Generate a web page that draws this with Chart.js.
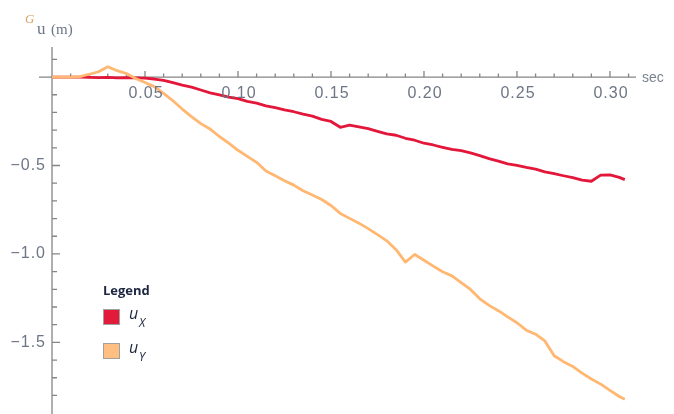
<!DOCTYPE html>
<html>
<head>
<meta charset="utf-8">
<script src="https://cdn.jsdelivr.net/npm/chart.js@4.4.1/dist/chart.umd.min.js"></script>
<style>
  html, body { margin: 0; padding: 0; background: #fff; }
  #wrap { width: 674px; height: 414px; position: relative; }
</style>
</head>
<body>
<div id="wrap"><canvas id="chart"></canvas></div>
<script>
// Sample times (s) and displacements (m)
const timeSec = [
  0, 0.005, 0.01, 0.015, 0.02, 0.025, 0.03, 0.035, 0.04, 0.045,
  0.05, 0.055, 0.06, 0.065, 0.07, 0.075, 0.08, 0.085, 0.09, 0.095,
  0.10, 0.105, 0.11, 0.115, 0.12, 0.125, 0.13, 0.135, 0.14, 0.145,
  0.15, 0.155, 0.16, 0.165, 0.17, 0.175, 0.18, 0.185, 0.19, 0.195,
  0.20, 0.205, 0.21, 0.215, 0.22, 0.225, 0.23, 0.235, 0.24, 0.245,
  0.25, 0.255, 0.26, 0.265, 0.27, 0.275, 0.28, 0.285, 0.29, 0.295,
  0.30, 0.305, 0.308
];
const uxMeters = [
  0, 0, 0, 0, -0.002, -0.003, -0.002, -0.004, -0.003, -0.005,
  -0.006, -0.011, -0.019, -0.031, -0.046, -0.057, -0.073, -0.089, -0.101, -0.113,
  -0.122, -0.137, -0.147, -0.163, -0.173, -0.186, -0.196, -0.210, -0.221, -0.239,
  -0.251, -0.284, -0.272, -0.281, -0.292, -0.307, -0.321, -0.329, -0.346, -0.357,
  -0.374, -0.384, -0.397, -0.409, -0.416, -0.429, -0.444, -0.461, -0.475, -0.491,
  -0.499, -0.511, -0.521, -0.536, -0.546, -0.558, -0.569, -0.583, -0.589, -0.554,
  -0.553, -0.567, -0.580
];
const uyMeters = [
  0, 0, 0, 0.003, 0.016, 0.030, 0.058, 0.036, 0.020, -0.008,
  -0.031, -0.054, -0.092, -0.134, -0.181, -0.224, -0.263, -0.294, -0.336, -0.374,
  -0.414, -0.448, -0.482, -0.531, -0.558, -0.586, -0.611, -0.643, -0.667, -0.692,
  -0.726, -0.771, -0.799, -0.826, -0.857, -0.891, -0.926, -0.976, -1.046, -1.003,
  -1.036, -1.069, -1.101, -1.124, -1.162, -1.201, -1.254, -1.291, -1.321, -1.356,
  -1.389, -1.431, -1.454, -1.492, -1.576, -1.609, -1.636, -1.674, -1.707, -1.736,
  -1.771, -1.806, -1.822
];

// Tick positions and labels
const xMajorTicks = [0.05, 0.10, 0.15, 0.20, 0.25, 0.30];
const xTickLabels = ['0.05', '0.10', '0.15', '0.20', '0.25', '0.30'];
const xMinorTicks = [
  0.01, 0.02, 0.03, 0.04, 0.06, 0.07, 0.08, 0.09, 0.11, 0.12, 0.13, 0.14,
  0.16, 0.17, 0.18, 0.19, 0.21, 0.22, 0.23, 0.24, 0.26, 0.27, 0.28, 0.29, 0.31
];
const yMajorTicks = [-1.5, -1.0, -0.5];
const yTickLabels = ['\u22121.5', '\u22121.0', '\u22120.5'];
const yMinorTicks = [-1.8, -1.7, -1.6, -1.4, -1.3, -1.2, -1.1, -0.9, -0.8, -0.7, -0.6, -0.4, -0.3, -0.2, -0.1, 0.1];

// Legend entries: base symbol + subscript
const seriesSymbols = ['u', 'u'];
const seriesSubscripts = ['X', 'Y'];
const seriesColors = ['#e3173a', '#ffb771'];
const swatchColors = ['#e31b3b', '#ffbf82'];

function toPoints(xs, ys) {
  return xs.map((x, i) => ({ x: x, y: ys[i] }));
}

const AXIS_COLOR = '#858585';
const LABEL_COLOR = '#6d7686';

// Mathematica-style axes crossing at the origin
const axesPlugin = {
  id: 'axesPlugin',
  beforeDatasetsDraw(chart) {
    const ctx = chart.ctx;
    const xs = chart.scales.x;
    const ys = chart.scales.y;
    const x0 = xs.getPixelForValue(0);
    const y0 = ys.getPixelForValue(0);

    ctx.save();
    ctx.strokeStyle = AXIS_COLOR;
    ctx.lineWidth = 1.3;

    // axis lines
    ctx.beginPath();
    ctx.moveTo(xs.left, y0);
    ctx.lineTo(xs.right, y0);
    ctx.moveTo(x0, ys.top);
    ctx.lineTo(x0, ys.bottom);
    ctx.stroke();

    // x ticks (pointing up)
    ctx.beginPath();
    xMajorTicks.forEach((v) => {
      const px = xs.getPixelForValue(v);
      ctx.moveTo(px, y0);
      ctx.lineTo(px, y0 - 6);
    });
    xMinorTicks.forEach((v) => {
      const px = xs.getPixelForValue(v);
      ctx.moveTo(px, y0);
      ctx.lineTo(px, y0 - 3.5);
    });
    // y ticks (pointing right)
    yMajorTicks.forEach((v) => {
      const py = ys.getPixelForValue(v);
      ctx.moveTo(x0, py);
      ctx.lineTo(x0 + 8, py);
    });
    yMinorTicks.forEach((v) => {
      const py = ys.getPixelForValue(v);
      ctx.moveTo(x0, py);
      ctx.lineTo(x0 + 5, py);
    });
    ctx.stroke();
    ctx.restore();
  },
  afterDraw(chart) {
    const ctx = chart.ctx;
    const xs = chart.scales.x;
    const ys = chart.scales.y;
    const x0 = xs.getPixelForValue(0);
    const y0 = ys.getPixelForValue(0);

    ctx.save();
    ctx.fillStyle = LABEL_COLOR;
    ctx.font = '16px "Liberation Sans", Arial, sans-serif';
    ctx.letterSpacing = '1px';

    // x tick labels
    ctx.textAlign = 'center';
    ctx.textBaseline = 'middle';
    xMajorTicks.forEach((v, i) => {
      ctx.fillText(xTickLabels[i], xs.getPixelForValue(v) + 1, y0 + 17);
    });

    // y tick labels
    ctx.textAlign = 'right';
    yMajorTicks.forEach((v, i) => {
      ctx.fillText(yTickLabels[i], x0 - 6, ys.getPixelForValue(v));
    });
    ctx.letterSpacing = '0px';

    // axis titles
    ctx.textAlign = 'left';
    ctx.font = '14px "Liberation Sans", Arial, sans-serif';
    ctx.fillStyle = '#7a8290';
    ctx.fillText('sec', xs.right + 6, y0 + 1);

    ctx.font = 'italic 13px "Liberation Serif", serif';
    ctx.fillStyle = '#d9a060';
    ctx.fillText('G', 25, 20);
    ctx.fillStyle = LABEL_COLOR;
    ctx.font = '17px "Liberation Serif", serif';
    ctx.fillText('u', 37, 30);
    ctx.font = '15px "Liberation Serif", serif';
    ctx.fillText('(m)', 51, 30);

    // legend
    const lx = 103;
    ctx.font = 'bold 13px "Open Sans", "Liberation Sans", sans-serif';
    ctx.fillStyle = '#1d2640';
    ctx.fillText('Legend', lx, 291);
    chart.data.datasets.forEach((ds, i) => {
      const top = 309 + i * 34;
      ctx.fillStyle = swatchColors[i];
      ctx.fillRect(lx, top, 17, 16);
      ctx.strokeStyle = '#a0a0a0';
      ctx.lineWidth = 1;
      ctx.strokeRect(lx + 0.5, top + 0.5, 16, 15);
      ctx.fillStyle = '#1d2640';
      ctx.font = 'italic 16px "Open Sans", "Liberation Sans", sans-serif';
      ctx.fillText(seriesSymbols[i], lx + 26, top + 5);
      ctx.font = 'italic 12px "Open Sans", "Liberation Sans", sans-serif';
      ctx.fillText(seriesSubscripts[i], lx + 36, top + 15);
    });
    ctx.restore();
  }
};

const ctx = document.getElementById('chart').getContext('2d');
new Chart(ctx, {
  type: 'scatter',
  data: {
    datasets: [
      {
        label: 'uX',
        data: toPoints(timeSec, uxMeters),
        borderColor: seriesColors[0],
        borderWidth: 2.8,
        borderJoinStyle: 'round',
        showLine: true,
        pointRadius: 0,
        tension: 0,
        order: 1
      },
      {
        label: 'uY',
        data: toPoints(timeSec, uyMeters),
        borderColor: seriesColors[1],
        borderWidth: 2.8,
        borderJoinStyle: 'round',
        showLine: true,
        pointRadius: 0,
        tension: 0,
        order: 0
      }
    ]
  },
  options: {
    responsive: true,
    maintainAspectRatio: false,
    animation: false,
    layout: { padding: { left: 39, right: 38, top: 47, bottom: 0 } },
    plugins: {
      legend: { display: false },
      tooltip: { enabled: false }
    },
    scales: {
      x: { type: 'linear', min: -0.007, max: 0.314, display: false },
      y: { type: 'linear', min: -1.905, max: 0.17, display: false }
    }
  },
  plugins: [axesPlugin]
});
</script>
</body>
</html>
